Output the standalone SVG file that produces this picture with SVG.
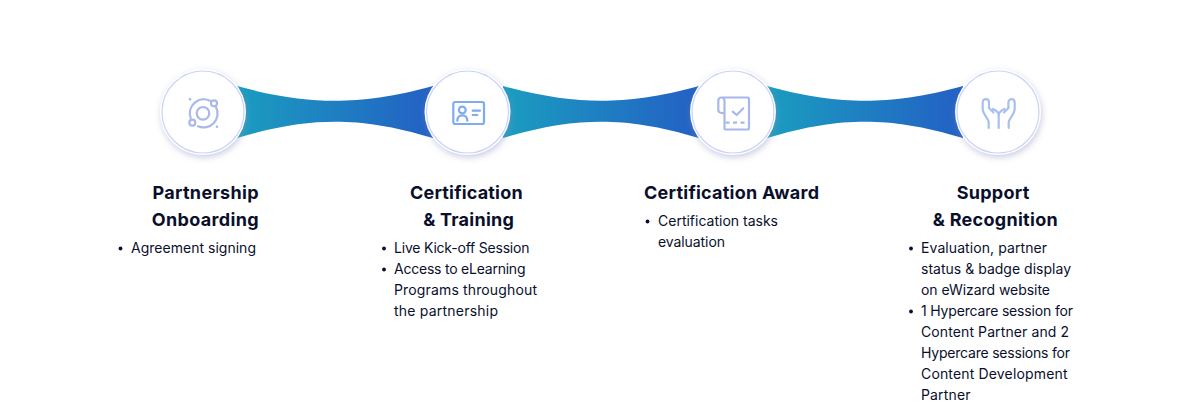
<svg xmlns="http://www.w3.org/2000/svg" width="1200" height="406" viewBox="0 0 1200 406">
<style>
text{font-family:"Inter","Noto Sans",sans-serif;fill:#0a0f2c}
.h{font-size:18px;font-weight:700;text-anchor:middle}
.b{font-size:14px;font-weight:400}
.ring{fill:#fff;stroke:#c9d2fb;stroke-width:1.200}
.disc{fill:#fff;filter:url(#sh)}
.ic{fill:none;stroke:#a9b8ea;stroke-width:2.200;stroke-linecap:round;stroke-linejoin:round}
.ic2{fill:none;stroke:#7fabef;stroke-width:2.200;stroke-linecap:round;stroke-linejoin:round}
.ic3{fill:none;stroke:#a9c0ee;stroke-width:2.200;stroke-linecap:round;stroke-linejoin:round}
.dot{fill:#0a0f2c}
</style>
<defs>
<linearGradient id="g" x1="0" x2="1" y1="0" y2="0"><stop offset="0" stop-color="#1a9dc0"/><stop offset="1" stop-color="#2360c4"/></linearGradient>
<filter id="sh" x="-30%" y="-30%" width="160%" height="170%"><feDropShadow dx="1" dy="2.500" stdDeviation="3" flood-color="#8a8fc0" flood-opacity=".45"/></filter>
<path id="br" d="M0 86C40 97 70 100.700 98 100.700C126 100.700 156 97 196 86V138C156 126 126 121.700 98 121.700C70 121.700 40 126 0 138Z" fill="url(#g)"/>
</defs>
<g id="connectors">
<use href="#br" x="237"/>
<use href="#br" x="503"/>
<use href="#br" x="767"/>
</g>
<g id="node-1">
<circle class="disc" cx="203" cy="112" r="43"/><circle class="ring" cx="203" cy="112" r="41"/>
<g class="ic"><circle cx="203" cy="113.300" r="6.300"/><path d="M190.700 118A14 14 0 0 1 210 100.700"/><path d="M216 107A14 14 0 0 1 198 126.300"/><circle cx="214" cy="103.300" r="3"/><circle cx="192.300" cy="122.700" r="3"/></g>
<circle cx="190" cy="99.300" r="1.300" fill="#a9b8ea"/><circle cx="217" cy="126.700" r="1.300" fill="#a9b8ea"/>
</g>
<g id="node-2">
<circle class="disc" cx="467.500" cy="112" r="43"/><circle class="ring" cx="467.500" cy="112" r="41"/>
<g class="ic2"><rect x="453.300" y="102" width="30.700" height="22" rx="2"/><circle cx="462.300" cy="110" r="3.400"/><path d="M457.300 120.700C457.300 113.500 467.300 113.500 467.300 120.700"/><path d="M472.700 110.700H480M472.700 115H477.300"/></g>
</g>
<g id="node-3">
<circle class="disc" cx="733" cy="112" r="43"/><circle class="ring" cx="733" cy="112" r="41"/>
<g class="ic"><path d="M721 97.500H747.500A1.500 1.500 0 0 1 749 99V128A1.500 1.500 0 0 1 747.500 129.500H726A1.500 1.500 0 0 1 724.500 128V101C724.500 99 723 97.500 721.500 97.500C719.500 97.500 718.300 99 718.300 101V110C718.300 112 720 113.300 724.500 113.300"/><path d="M732.700 111.700L736.700 115L743.300 108.300"/><path d="M725.500 122.700H749" stroke-dasharray="4 3.500" stroke-linecap="butt"/></g>
</g>
<g id="node-4">
<circle class="disc" cx="998" cy="112" r="43"/><circle class="ring" cx="998" cy="112" r="41"/>
<g class="ic3"><path d="M988.700 128V122.500C988.700 119 982.700 114 982.700 109V102.700C982.700 98 989 98 989 102.700V108"/><path d="M1008.700 128V122.500C1008.700 119 1014.700 114 1014.700 109V102.700C1014.700 98 1008.400 98 1008.400 102.700V108"/><path d="M998.700 128V115"/><path d="M989 108L993.500 112.500M993 109C996 110.500 998.700 112 998.700 115C998.700 112 1001.400 110.500 1004.400 109M1008.400 108L1003.900 112.500"/></g>
</g>
<g id="text-1">
<text class="h" x="205.500" y="199" textLength="106">Partnership</text><text class="h" x="205.200" y="226" textLength="107">Onboarding</text>
<circle class="dot" cx="120.500" cy="248.500" r="1.900"/><text class="b" x="131" y="253" textLength="125">Agreement signing</text>
</g>
<g id="text-2">
<text class="h" x="466.300" y="199" textLength="112.700">Certification</text><text class="h" x="468.500" y="226" textLength="90.700">&amp; Training</text>
<circle class="dot" cx="384" cy="248.500" r="1.900"/><text class="b" x="394" y="253" textLength="135.500">Live Kick-off Session</text>
<circle class="dot" cx="384" cy="269.500" r="1.900"/><text class="b" x="394" y="274" textLength="131.500">Access to eLearning</text>
<text class="b" x="394" y="295" textLength="143">Programs throughout</text><text class="b" x="394" y="316" textLength="104">the partnership</text>
</g>
<g id="text-3">
<text class="h" x="731.500" y="199" textLength="175">Certification Award</text>
<circle class="dot" cx="647.500" cy="221.500" r="1.900"/><text class="b" x="658" y="226" textLength="120">Certification tasks</text>
<text class="b" x="658" y="247" textLength="67">evaluation</text>
</g>
<g id="text-4">
<text class="h" x="993" y="199" textLength="72.700">Support</text><text class="h" x="995.200" y="226" textLength="125">&amp; Recognition</text>
<circle class="dot" cx="911" cy="248.500" r="1.900"/><text class="b" x="921" y="253" textLength="126">Evaluation, partner</text>
<text class="b" x="921" y="274" textLength="150">status &amp; badge display</text><text class="b" x="921" y="295" textLength="129">on eWizard website</text>
<circle class="dot" cx="911" cy="311.500" r="1.900"/><text class="b" x="921" y="316" textLength="152">1 Hypercare session for</text>
<text class="b" x="921" y="337" textLength="148">Content Partner and 2</text><text class="b" x="921" y="358" textLength="149">Hypercare sessions for</text>
<text class="b" x="921" y="379" textLength="146.500">Content Development</text><text class="b" x="921" y="400" textLength="49.500">Partner</text>
</g>
</svg>
